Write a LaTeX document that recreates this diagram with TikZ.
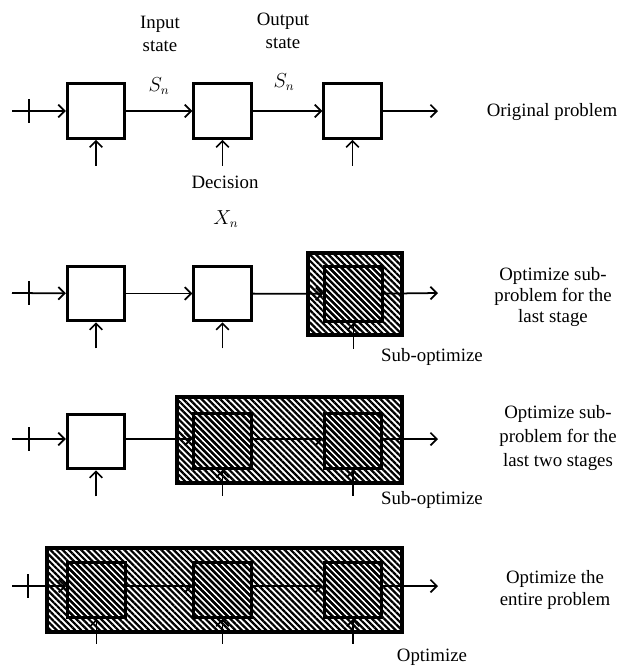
\documentclass[tikz,border=0pt]{standalone}
\usepackage{fontspec}
\setmainfont{Liberation Serif}
\usetikzlibrary{positioning,arrows.meta,patterns.meta,calc}

\tikzset{
  stage/.style={draw, line width=2.2pt, minimum width=1.43cm, minimum height=1.36cm, inner sep=0pt},
  hatched/.style={pattern={Lines[angle=-45,distance=3.1pt,line width=1.6pt]}},
  bigbox/.style={draw, line width=2.9pt, hatched},
  flow/.style={->, line width=1.25pt},
  tick/.style={line width=1.25pt},
  lbl/.style={font=\fontsize{13.4}{15}\selectfont, align=center, inner sep=0pt},
}

\begin{document}
\begin{tikzpicture}[x=0.025cm,y=-0.025cm,>={Straight Barb[length=4.5pt,width=9pt]}]
\useasboundingbox (0,0) rectangle (618,666);

% --- original problem
\node[stage] (a1) at (96,111) {};
\node[stage] (a2) at (222.5,111) {};
\node[stage] (a3) at (352.5,111) {};
\coordinate (s1) at (12,111);
\coordinate (e1) at (438,111);
\draw[tick] ($(s1)+(17,-12)$) -- ++(0,24);
\draw[flow] (s1) -- (a1);
\draw[flow] (a1) -- (a2);
\draw[flow] (a2) -- (a3);
\draw[flow] (a3) -- (e1);
\foreach \b in {a1,a2,a3}{
  \coordinate (\b in) at ($(\b.south)+(0,26)$);
  \draw[flow] (\b in) -- (\b.south);
}
\node[lbl,font=\fontsize{13.4}{16.5}\selectfont] (instate) at (160,34) {Input\\state};
\node[lbl,font=\fontsize{13.4}{16.5}\selectfont] (outstate) at (283,31) {Output\\state};
\node[lbl] (sin) at (159,86) {$S_n$};
\node[lbl] (sout) at (284,82) {$S_n$};
\node[lbl] (dec) at (225,182) {Decision};
\node[lbl] (xn) at (226,219) {$X_n$};
\node[lbl] (t1) at (552,112) {Original problem};

% --- last stage
\draw[bigbox] (308,253) rectangle (402,335);
\node[stage] (b1) at (96,293.5) {};
\node[stage] (b2) at (222.5,293.5) {};
\node[stage,hatched] (b3) at (353.5,294) {};
\coordinate (s2) at (12,293);
\coordinate (e2) at (438,293);
\draw[tick] ($(s2)+(17,-12)$) -- ++(0,24);
\draw[flow] (s2) -- (b1);
\draw[flow] (b1) -- (b2);
\draw[flow] (b2) -- (b3);
\draw[flow] (b3) -- (e2);
\foreach \b in {b1,b2,b3}{
  \coordinate (\b in) at ($(\b.south)+(0,26)$);
  \draw[flow] (\b in) -- (\b.south);
}
\node[lbl] (sub2) at (432,357) {Sub-optimize};
\node[lbl] (t2) at (553,297) {Optimize sub-\\problem for the\\last stage};

% --- last two stages
\draw[bigbox] (177,397) rectangle (402,483);
\node[stage] (c1) at (96,441.5) {};
\node[stage,hatched] (c2) at (222.5,441) {};
\node[stage,hatched] (c3) at (353,441) {};
\coordinate (s3) at (12,439);
\coordinate (e3) at (438,439);
\draw[tick] ($(s3)+(17,-12)$) -- ++(0,24);
\draw[flow] (s3) -- (c1.west |- s3);
\draw[flow] (c1.east |- s3) -- (c2.west |- s3);
\draw[flow] (c2.east |- s3) -- (c3.west |- s3);
\draw[flow] (c3.east |- s3) -- (e3);
\foreach \b in {c1,c2,c3}{
  \coordinate (\b in) at ($(\b.south)+(0,26)$);
  \draw[flow] (\b in) -- (\b.south);
}
\node[lbl] (sub3) at (432,500) {Sub-optimize};
\node[lbl,font=\fontsize{13.4}{17}\selectfont] (t3) at (558,438) {Optimize sub-\\problem for the\\last two stages};

% --- entire problem
\draw[bigbox] (47,548) rectangle (402,632);
\node[stage,hatched] (d1) at (96.5,590) {};
\node[stage,hatched] (d2) at (222.5,590) {};
\node[stage,hatched] (d3) at (353,590) {};
\coordinate (s4) at (12,586);
\coordinate (e4) at (438,586);
\draw[tick] ($(s4)+(16,-12)$) -- ++(0,24);
\draw[flow] (s4) -- (d1.west |- s4);
\draw[flow] (d1.east |- s4) -- (d2.west |- s4);
\draw[flow] (d2.east |- s4) -- (d3.west |- s4);
\draw[flow] (d3.east |- s4) -- (e4);
\foreach \b in {d1,d2,d3}{
  \coordinate (\b in) at ($(\b.south)+(0,25)$);
  \draw[flow] (\b in) -- (\b.south);
}
\node[lbl] (opt4) at (432,657) {Optimize};
\node[lbl] (t4) at (555,590) {Optimize the\\entire problem};
\end{tikzpicture}
\end{document}
